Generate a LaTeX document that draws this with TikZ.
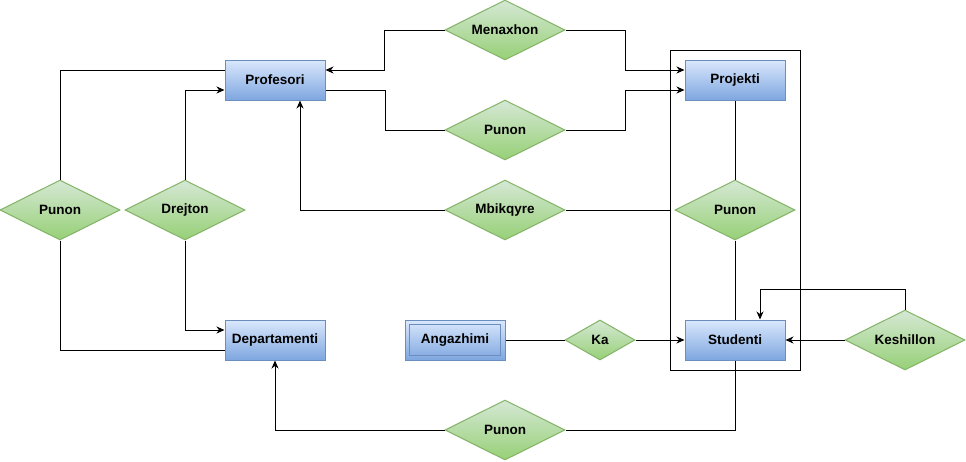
\documentclass[tikz,border=0pt]{standalone}
\usepackage{fontspec}
\setmainfont{Liberation Sans}
\usetikzlibrary{shapes.geometric,arrows.meta,calc}
\definecolor{entb}{HTML}{6C8EBF}
\definecolor{entt}{HTML}{DAE8FC}
\definecolor{entbot}{HTML}{7EA6E0}
\definecolor{relb}{HTML}{82B366}
\definecolor{relt}{HTML}{D5E8D4}
\definecolor{relbot}{HTML}{97D077}
\tikzset{
  lbl/.style={font=\bfseries\fontsize{13.5}{16}\selectfont, text=black},
  ent/.style={lbl, draw=entb, top color=entt, bottom color=entbot, rectangle, minimum width=100pt, minimum height=40pt, inner sep=0pt, line width=1pt},
  rel/.style={lbl, diamond, aspect=2, draw=relb, top color=relt, bottom color=relbot, minimum width=120pt, minimum height=60pt, inner sep=0pt, line width=1pt},
  grpbox/.style={draw=black, line width=1pt, rectangle, minimum width=130pt, minimum height=320pt, inner sep=0pt},
  conn/.style={line width=1pt, draw=black},
  arr/.style={conn, -{Stealth[length=8pt,width=7pt,inset=2.5pt]}},
}
\begin{document}
\begin{tikzpicture}[x=1pt,y=-1pt]
\useasboundingbox (0,0) rectangle (966,461);
% group box
\node[grpbox] (grp) at (735,210) {};
% entities
\node[ent] (prof) at (275,80) {Profesori};
\node[ent] (proj) at (735,80) {Projekti};
\node[ent] (dep) at (275,340) {Departamenti};
\node[ent] (ang) at (455,340) {Angazhimi};
\draw[draw=entb, line width=1pt] ($(ang.north west)+(5,5)$) rectangle ($(ang.south east)+(-5,-5)$);
\node[ent] (stu) at (735,340) {Studenti};
% relationships
\node[rel] (men) at (505,30) {Menaxhon};
\node[rel] (pun1) at (505,130) {Punon};
\node[rel] (mbi) at (505,210) {Mbikqyre};
\node[rel] (pun2) at (735,210) {Punon};
\node[rel] (punL) at (60,210) {Punon};
\node[rel] (drej) at (185,210) {Drejton};
\node[rel, minimum width=70pt, minimum height=40pt] (ka) at (600,340) {Ka};
\node[rel] (kes) at (905,340) {Keshillon};
\node[rel] (pun3) at (505,430) {Punon};
% connectors
\draw[arr] (men.west) -- ++(-60,0) |- ($(prof.east)+(0,-10)$);
\draw[arr] (men.east) -- ++(60,0) |- ($(proj.west)+(0,-10)$);
\draw[conn] ($(prof.east)+(0,10)$) -- ++(60,0) |- (pun1.west);
\draw[arr] (pun1.east) -- ++(60,0) |- ($(proj.west)+(0,10)$);
\draw[arr] (mbi.west) -| ($(prof.south)+(25,0)$);
\draw[conn] (mbi.east) -- (grp.west);
\draw[conn] (proj.south) -- (pun2.north);
\draw[conn] (pun2.south) -- (stu.north);
\draw[conn] (punL.north) |- ($(prof.west)+(0,-10)$);
\draw[arr] (drej.north) |- ($(prof.west)+(0,10)$);
\draw[conn] (punL.south) |- ($(dep.west)+(0,10)$);
\draw[arr] (drej.south) |- ($(dep.west)+(0,-10)$);
\draw[conn] (ang.east) -- (ka.west);
\draw[arr] (ka.east) -- (stu.west);
\draw[arr] (kes.west) -- (stu.east);
\draw[arr] (kes.north) -- ++(0,-20) -| ($(stu.north)+(25,0)$);
\draw[conn] (stu.south) |- (pun3.east);
\draw[arr] (pun3.west) -| (dep.south);
\end{tikzpicture}
\end{document}
